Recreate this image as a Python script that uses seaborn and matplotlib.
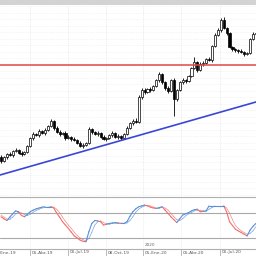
import numpy as np
import pandas as pd
import matplotlib
matplotlib.use("Agg")
import matplotlib.pyplot as plt
import seaborn as sns
from matplotlib.patches import Rectangle

sns.set_style("white")
plt.rcParams['font.family'] = ['DejaVu Sans']

# ---- data (weekly candles, index 0..87) ----
opens = [43, 39, 43, 46, 45, 49, 50, 47, 46, 48,
         54, 62, 66, 65, 69, 67, 70, 74, 79, 72,
         68, 66, 67, 62, 63, 61, 60, 57, 54, 55,
         57, 71, 68, 66, 67, 63, 61, 62, 65, 67,
         63, 64, 62, 66, 72, 77, 79, 78, 103, 110,
         108, 111, 110, 114, 120, 126, 118, 112, 109, 120,
         101, 110, 118, 120, 119, 124, 132, 138, 130, 136,
         137, 141, 140, 154, 165, 170, 180, 172, 167, 153,
         151, 150, 149, 148, 146, 147, 161, 166]
closes = [39, 43, 46, 45, 49, 50, 47, 46, 48, 54,
          62, 66, 65, 69, 67, 70, 74, 79, 72, 68,
          66, 67, 62, 63, 61, 60, 57, 54, 55, 57,
          71, 68, 66, 67, 63, 61, 62, 65, 67, 63,
          64, 62, 66, 72, 77, 79, 78, 103, 110, 108,
          111, 110, 114, 120, 126, 118, 112, 109, 120, 101,
          110, 118, 120, 119, 124, 132, 138, 130, 136, 137,
          141, 140, 154, 165, 170, 180, 172, 167, 153, 151,
          150, 149, 148, 146, 147, 161, 166, 167]
highs = [45, 44, 47, 48, 50, 52, 51, 49, 49, 55,
         63, 68, 67, 71, 70, 72, 75, 81, 80, 74,
         70, 68, 69, 65, 64, 63, 61, 59, 57, 58,
         73, 72, 69, 69, 68, 65, 63, 66, 69, 68,
         66, 65, 67, 74, 78, 81, 82, 105, 112, 112,
         112, 113, 115, 121, 128, 127, 119, 114, 121, 122,
         111, 119, 122, 121, 125, 133, 143, 139, 138, 139,
         142, 143, 155, 167, 172, 182, 183, 173, 168, 154,
         152, 151, 151, 149, 148, 162, 168, 168]
lows = [37, 38, 41, 44, 43, 48, 46, 44, 45, 47,
        53, 60, 64, 63, 66, 65, 69, 73, 70, 67,
        64, 65, 60, 61, 59, 59, 56, 53, 52, 54,
        56, 66, 65, 64, 62, 60, 59, 61, 63, 62,
        61, 60, 61, 65, 71, 75, 77, 77, 101, 106,
        107, 108, 109, 113, 118, 116, 110, 107, 108, 84,
        99, 109, 116, 117, 118, 123, 131, 128, 129, 134,
        136, 139, 138, 153, 164, 168, 171, 165, 152, 149,
        148, 147, 147, 144, 145, 146, 160, 165]

resistance_level = 135
trend_x = [-0.34, 87.0]
trend_y = [25, 98]

stoch_k = [71, 66, 62, 70, 78, 85, 83, 74, 71, 77,
           83, 87, 90, 92, 94, 95, 95, 95, 92, 80,
           70, 59, 51, 43, 34, 25, 20, 15, 12, 11,
           35, 55, 62, 61, 59, 51, 53, 55, 56, 57,
           56, 55, 55, 59, 72, 83, 90, 95, 97, 99,
           97, 94, 92, 91, 93, 95, 87, 79, 71, 64,
           57, 66, 75, 78, 81, 85, 88, 89, 83, 84,
           85, 97, 97, 97, 97, 97, 97, 83, 59, 50,
           41, 37, 33, 29, 25, 39, 48, 55]
stoch_d = [75, 70, 66, 66, 70, 78, 82, 80, 76, 74,
           77, 82, 86, 89, 92, 93, 94, 95, 94, 89,
           81, 70, 60, 51, 43, 34, 26, 20, 16, 13,
           19, 34, 51, 59, 61, 57, 54, 53, 55, 56,
           56, 56, 55, 56, 62, 71, 82, 89, 94, 97,
           98, 97, 94, 92, 92, 93, 92, 87, 79, 71,
           64, 62, 66, 73, 78, 81, 85, 87, 87, 85,
           84, 89, 93, 97, 97, 97, 97, 92, 80, 64,
           50, 43, 37, 33, 29, 31, 37, 47]
stoch_levels = [80, 20]

tick_pos = [-3.07, 9.9, 22.9, 35.8, 48.5, 61.4, 74.7]
tick_labels = ["05-Ene-19", "05-Abr-19", "05-Jul-19", "08-Oct-19",
               "05-Ene-20", "05-Abr-20", "05-Jul-20"]
year_marker = "2020"
year_marker_pos = 48.5

# ---- figure ----
fig = plt.figure(figsize=(2.56, 2.56), dpi=100)
fig.patch.set_facecolor("white")
fig.patches.append(Rectangle((0, 1 - 4.5 / 256), 1, 4.5 / 256, transform=fig.transFigure,
                             facecolor="#d3d3d3", edgecolor="none", zorder=0))

ax = fig.add_axes([0, 1 - 196 / 256, 1, (196 - 5) / 256])
axo = fig.add_axes([0, 1 - 249 / 256, 1, (249 - 197) / 256])

idx = np.arange(len(closes))
df = pd.DataFrame({"i": idx, "o": opens, "c": closes, "h": highs, "l": lows})
df["lo_b"] = df[["o", "c"]].min(axis=1)
df["hi_b"] = df[["o", "c"]].max(axis=1)
df["up"] = df["c"] >= df["o"]

xmin, xmax = -0.34, 87.03
ax.set_xlim(xmin, xmax)
ax.set_ylim(4, 195)

# grid
for yv in np.arange(194, 4, -6.5):
    ax.axhline(yv, color="#ebebeb", lw=0.5, ls=(0, (1, 1.5)), zorder=0)
for tp in tick_pos:
    ax.axvline(tp, color="#dcdcdc", lw=0.5, ls=(0, (1, 1.5)), zorder=0)
    axo.axvline(tp, color="#e4e4e4", lw=0.5, ls=(0, (1, 1.5)), zorder=0)

# candles
ax.vlines(df["i"], df["l"], df["h"], color="black", lw=0.6, zorder=2)
body_h = (df["hi_b"] - df["lo_b"]).clip(lower=0.6)
ax.bar(df["i"], body_h, bottom=df["lo_b"], width=0.72,
       color=np.where(df["up"], "white", "black"), edgecolor="black", lw=0.5, zorder=3)

# lines
ax.axhline(resistance_level, color="#e04848", lw=1.1, zorder=4)
sns.lineplot(x=trend_x, y=trend_y, ax=ax, color="#3a46d6", lw=1.2, zorder=4)

for a in (ax, axo):
    a.set_xticks([])
    a.set_yticks([])
    a.set_xlabel("")
    a.set_ylabel("")
for s in ax.spines.values():
    s.set_visible(False)

# oscillator
axo.set_xlim(xmin, xmax)
axo.set_ylim(-6.4, 118.4)
for lv in stoch_levels:
    axo.axhline(lv, color="#a8a8a8", lw=0.8, zorder=1)
for side in ("left", "right"):
    axo.spines[side].set_visible(False)
for side in ("top", "bottom"):
    axo.spines[side].set_color("#b0b0b0")
    axo.spines[side].set_linewidth(0.8)

rows = []
for i in range(len(stoch_k) - 1):
    d = "up" if stoch_k[i + 1] >= stoch_d[i + 1] else "down"
    for j in (i, i + 1):
        rows.append({"x": j, "v": stoch_k[j], "seg": f"k{i}", "dir": d, "line": "K"})
        rows.append({"x": j, "v": stoch_d[j], "seg": f"d{i}", "dir": d, "line": "D"})
odf = pd.DataFrame(rows)
pal = {"up": "#5b8fd6", "down": "#f07070"}
sns.lineplot(data=odf[odf.line == "D"], x="x", y="v", hue="dir", units="seg",
             estimator=None, palette=pal, ax=axo, lw=0.5, alpha=0.8, legend=False, zorder=2)
sns.lineplot(data=odf[odf.line == "K"], x="x", y="v", hue="dir", units="seg",
             estimator=None, palette=pal, ax=axo, lw=0.8, legend=False, zorder=3)
axo.set_xlabel("")
axo.set_ylabel("")
axo.set_xticks([])
axo.set_yticks([])

# x labels
trans = matplotlib.transforms.blended_transform_factory(axo.transData, fig.transFigure)
for tp, lab in zip(tick_pos, tick_labels):
    axo.plot([tp, tp], [1 - 249 / 256, 0], transform=trans, color="#b0b0b0", lw=0.6, clip_on=False)
    axo.text(tp + 0.5, 1 - 252.5 / 256, lab, transform=trans, ha="left", va="center",
             fontsize=3.2, color="#555555", clip_on=False)
axo.text(year_marker_pos + 0.5, 1 - 245.5 / 256, year_marker, transform=trans, ha="left",
         va="center", fontsize=3.0, color="#666666", clip_on=False)

fig.savefig("out.png", dpi=100)
